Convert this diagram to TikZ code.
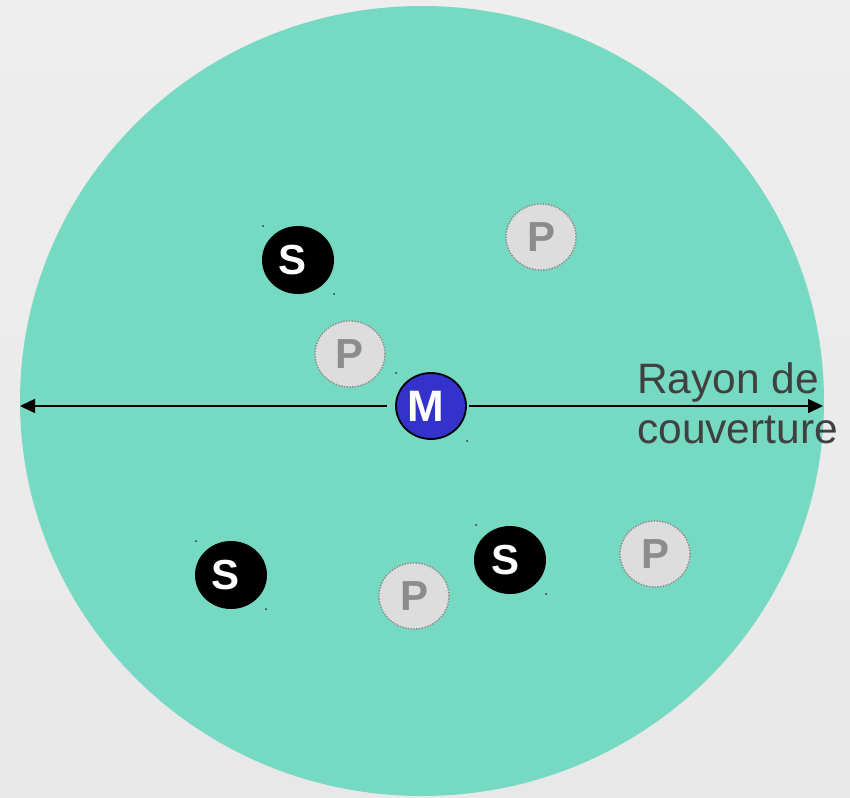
\documentclass[tikz,border=0pt]{standalone}
\usepackage{fontspec}
\setmainfont{Liberation Sans}
\usetikzlibrary{arrows.meta,shapes.geometric}
\definecolor{bgtop}{HTML}{EEEEEE}
\definecolor{bgbot}{HTML}{E8E8E8}
\definecolor{zone}{HTML}{76D9C1}
\definecolor{mblue}{HTML}{3333CC}
\definecolor{pfill}{HTML}{DDDDDD}
\definecolor{pline}{HTML}{8A8A8A}
\definecolor{ptext}{HTML}{8C8C8C}
\definecolor{labtext}{HTML}{404040}
\tikzset{
  sbox/.style={ellipse, minimum width=72pt, minimum height=68pt, inner sep=0pt, fill=black, text=white, font=\fontsize{42}{42}\selectfont\bfseries, execute at end node={\kern10pt}},
  mbox/.style={sbox, fill=mblue, draw=black, line width=1.8pt, minimum width=70pt, minimum height=66pt, font=\fontsize{44}{44}\selectfont\bfseries},
  pbox/.style={ellipse, minimum width=70pt, minimum height=66pt, inner sep=0pt, fill=pfill, draw=pline, line width=1.4pt, dash pattern=on 1.4pt off 1.4pt, text=ptext, font=\fontsize{42}{42}\selectfont\bfseries},
  tick/.style={fill=black!80},
  radius arrow/.style={-{Triangle[length=15pt,width=14pt]}, line width=1.6pt, black}
}
\begin{document}
\begin{tikzpicture}[x=1pt,y=-1pt]
\useasboundingbox (0,0) rectangle (850,797);
\shade[top color=bgtop, bottom color=bgbot] (0,0) rectangle (850,797);
\fill[zone] (422,401) ellipse [x radius=402, y radius=395];
\coordinate (L) at (20,406);
\coordinate (R) at (823,406);
\node[mbox] (M) at (431,406) {M};
\node[sbox] (S1) at (298,260) {S};
\node[sbox] (S2) at (231,575) {S};
\node[sbox] (S3) at (510,560) {S};
\node[pbox] (P1) at (541,237) {P};
\node[pbox] (P2) at (350,354) {P};
\node[pbox] (P3) at (414,596) {P};
\node[pbox] (P4) at (655,554) {P};
\draw[radius arrow, shorten <=8pt] (M.west) -- (L);
\draw[radius arrow, shorten <=2pt] (M.east) -- (R);
\node[anchor=base west, inner sep=0pt, align=left, text=labtext, font=\fontsize{42.5}{50}\selectfont] (lab) at (637,443) {Rayon de\\couverture};
\foreach \x/\y in {263/226,334/294,396/373,467/441,476/525,546/594,196/541,266/609}
  \fill[tick] (\x,\y) circle (1pt);
\end{tikzpicture}
\end{document}
